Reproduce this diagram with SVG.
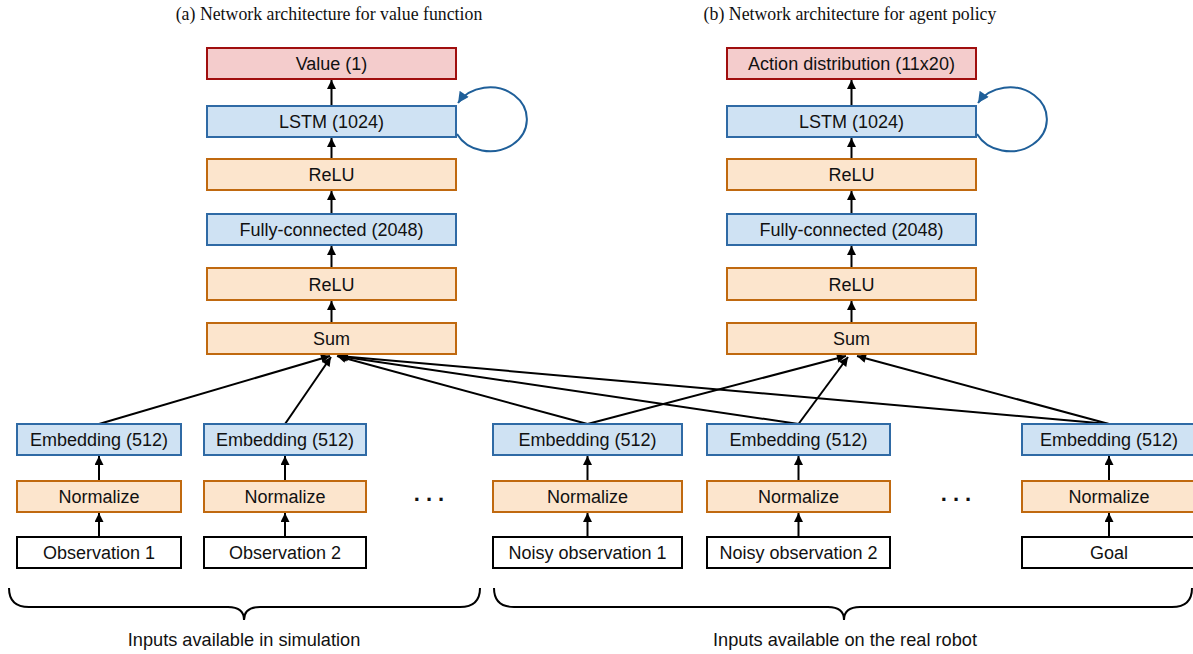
<svg xmlns="http://www.w3.org/2000/svg" width="1193" height="654" viewBox="0 0 1193 654">
<style>
.box{stroke-width:2}
.blue{fill:#cfe2f3;stroke:#2f6aa5}
.orange{fill:#fce5cd;stroke:#c0690f}
.red{fill:#f4cccc;stroke:#a00e0e}
.white{fill:#ffffff;stroke:#000000}
.lbl{font-family:"Liberation Sans",Arial,sans-serif;font-size:18px;fill:#111;text-anchor:middle;dominant-baseline:central}
.title{font-family:"Liberation Serif","Times New Roman",serif;font-size:17.8px;fill:#111;text-anchor:middle}
.cap{font-family:"Liberation Sans",Arial,sans-serif;font-size:18.2px;fill:#111;text-anchor:middle}
.edge{stroke:#000;stroke-width:2;fill:none;marker-end:url(#ah)}
.loop{stroke:#1f5f99;stroke-width:2;fill:none;marker-end:url(#ahb)}
.brace{stroke:#000;stroke-width:2;fill:none}
.dots{font-family:"Liberation Sans",Arial,sans-serif;font-size:22px;font-weight:bold;fill:#111;text-anchor:middle;letter-spacing:6px}
</style>
<defs>
<marker id="ah" viewBox="0 0 10 10" refX="10" refY="5" markerWidth="10" markerHeight="9" markerUnits="userSpaceOnUse" orient="auto">
<path d="M0,0 L10,5 L0,10 z" fill="#000"/>
</marker>
<marker id="ahb" viewBox="0 0 10 10" refX="10" refY="5" markerWidth="12" markerHeight="11" markerUnits="userSpaceOnUse" orient="auto">
<path d="M0,0 L10,5 L0,10 z" fill="#1f5f99"/>
</marker>
</defs>
<rect width="1193" height="654" fill="#ffffff"/>

<text class="title" x="329" y="20">(a) Network architecture for value function</text>
<text class="title" x="850" y="20">(b) Network architecture for agent policy</text>

<g id="connectors">
<line class="edge" x1="331.5" y1="106" x2="331.5" y2="80"/>
<line class="edge" x1="331.5" y1="159" x2="331.5" y2="138"/>
<line class="edge" x1="331.5" y1="214" x2="331.5" y2="191"/>
<line class="edge" x1="331.5" y1="268" x2="331.5" y2="246"/>
<line class="edge" x1="331.5" y1="323" x2="331.5" y2="301"/>
<line class="edge" x1="851.5" y1="106" x2="851.5" y2="80"/>
<line class="edge" x1="851.5" y1="159" x2="851.5" y2="138"/>
<line class="edge" x1="851.5" y1="214" x2="851.5" y2="191"/>
<line class="edge" x1="851.5" y1="268" x2="851.5" y2="246"/>
<line class="edge" x1="851.5" y1="323" x2="851.5" y2="301"/>
<path class="loop" d="M457 134 A37 32 0 1 0 458 103"/>
<path class="loop" d="M977 134 A37 32 0 1 0 978 103"/>
<line class="edge" x1="99" y1="537" x2="99" y2="513"/>
<line class="edge" x1="99" y1="481" x2="99" y2="456"/>
<line class="edge" x1="285" y1="537" x2="285" y2="513"/>
<line class="edge" x1="285" y1="481" x2="285" y2="456"/>
<line class="edge" x1="587.5" y1="537" x2="587.5" y2="513"/>
<line class="edge" x1="587.5" y1="481" x2="587.5" y2="456"/>
<line class="edge" x1="798.5" y1="537" x2="798.5" y2="513"/>
<line class="edge" x1="798.5" y1="481" x2="798.5" y2="456"/>
<line class="edge" x1="1109" y1="537" x2="1109" y2="513"/>
<line class="edge" x1="1109" y1="481" x2="1109" y2="456"/>
<line class="edge" x1="99" y1="424" x2="330" y2="356"/>
<line class="edge" x1="285" y1="424" x2="331" y2="357"/>
<line class="edge" x1="587.5" y1="424" x2="337" y2="356"/>
<line class="edge" x1="587.5" y1="424" x2="846" y2="356"/>
<line class="edge" x1="798.5" y1="424" x2="338" y2="356"/>
<line class="edge" x1="798.5" y1="424" x2="848" y2="357"/>
<line class="edge" x1="1109" y1="424" x2="339" y2="356"/>
<line class="edge" x1="1109" y1="424" x2="857" y2="356"/>
</g>

<g id="value"><rect class="box red" x="207" y="48" width="249" height="31"/><text class="lbl" x="331.5" y="64">Value (1)</text></g>
<g id="lstm-a"><rect class="box blue" x="207" y="106" width="249" height="31"/><text class="lbl" x="331.5" y="122">LSTM (1024)</text></g>
<g id="relu2-a"><rect class="box orange" x="207" y="159" width="249" height="31"/><text class="lbl" x="331.5" y="175">ReLU</text></g>
<g id="fc-a"><rect class="box blue" x="207" y="214" width="249" height="31"/><text class="lbl" x="331.5" y="230">Fully-connected (2048)</text></g>
<g id="relu1-a"><rect class="box orange" x="207" y="268" width="249" height="32"/><text class="lbl" x="331.5" y="285">ReLU</text></g>
<g id="sum-a"><rect class="box orange" x="207" y="323" width="249" height="31"/><text class="lbl" x="331.5" y="339">Sum</text></g>

<g id="action"><rect class="box red" x="727" y="48" width="249" height="31"/><text class="lbl" x="851.5" y="64">Action distribution (11x20)</text></g>
<g id="lstm-b"><rect class="box blue" x="727" y="106" width="249" height="31"/><text class="lbl" x="851.5" y="122">LSTM (1024)</text></g>
<g id="relu2-b"><rect class="box orange" x="727" y="159" width="249" height="31"/><text class="lbl" x="851.5" y="175">ReLU</text></g>
<g id="fc-b"><rect class="box blue" x="727" y="214" width="249" height="31"/><text class="lbl" x="851.5" y="230">Fully-connected (2048)</text></g>
<g id="relu1-b"><rect class="box orange" x="727" y="268" width="249" height="32"/><text class="lbl" x="851.5" y="285">ReLU</text></g>
<g id="sum-b"><rect class="box orange" x="727" y="323" width="249" height="31"/><text class="lbl" x="851.5" y="339">Sum</text></g>

<g id="emb1"><rect class="box blue" x="17" y="424" width="164" height="31"/><text class="lbl" x="99" y="440">Embedding (512)</text></g>
<g id="norm1"><rect class="box orange" x="17" y="481" width="164" height="31"/><text class="lbl" x="99" y="497">Normalize</text></g>
<g id="obs1"><rect class="box white" x="17" y="537" width="164" height="31"/><text class="lbl" x="99" y="553">Observation 1</text></g>

<g id="emb2"><rect class="box blue" x="204" y="424" width="162" height="31"/><text class="lbl" x="285" y="440">Embedding (512)</text></g>
<g id="norm2"><rect class="box orange" x="204" y="481" width="162" height="31"/><text class="lbl" x="285" y="497">Normalize</text></g>
<g id="obs2"><rect class="box white" x="204" y="537" width="162" height="31"/><text class="lbl" x="285" y="553">Observation 2</text></g>

<g id="emb3"><rect class="box blue" x="493" y="424" width="189" height="31"/><text class="lbl" x="587.5" y="440">Embedding (512)</text></g>
<g id="norm3"><rect class="box orange" x="493" y="481" width="189" height="31"/><text class="lbl" x="587.5" y="497">Normalize</text></g>
<g id="nobs1"><rect class="box white" x="493" y="537" width="189" height="31"/><text class="lbl" x="587.5" y="553">Noisy observation 1</text></g>

<g id="emb4"><rect class="box blue" x="707" y="424" width="183" height="31"/><text class="lbl" x="798.5" y="440">Embedding (512)</text></g>
<g id="norm4"><rect class="box orange" x="707" y="481" width="183" height="31"/><text class="lbl" x="798.5" y="497">Normalize</text></g>
<g id="nobs2"><rect class="box white" x="707" y="537" width="183" height="31"/><text class="lbl" x="798.5" y="553">Noisy observation 2</text></g>

<g id="emb5"><rect class="box blue" x="1022" y="424" width="176" height="31"/><text class="lbl" x="1109" y="440">Embedding (512)</text></g>
<g id="norm5"><rect class="box orange" x="1022" y="481" width="176" height="31"/><text class="lbl" x="1109" y="497">Normalize</text></g>
<g id="goal"><rect class="box white" x="1022" y="537" width="176" height="31"/><text class="lbl" x="1109" y="553">Goal</text></g>

<g id="dots">
<text class="dots" x="432" y="501">...</text>
<text class="dots" x="959" y="501">...</text>
</g>

<g id="braces">
<path class="brace" d="M9 588 Q9 607 29 607 L228 607 Q244 607 244 620 Q244 607 260 607 L460 607 Q480 607 480 588"/>
<path class="brace" d="M494 588 Q494 607 514 607 L828 607 Q844 607 844 620 Q844 607 860 607 L1172 607 Q1192 607 1192 588"/>
</g>
<text class="cap" x="244" y="646">Inputs available in simulation</text>
<text class="cap" x="845" y="646">Inputs available on the real robot</text>
</svg>
